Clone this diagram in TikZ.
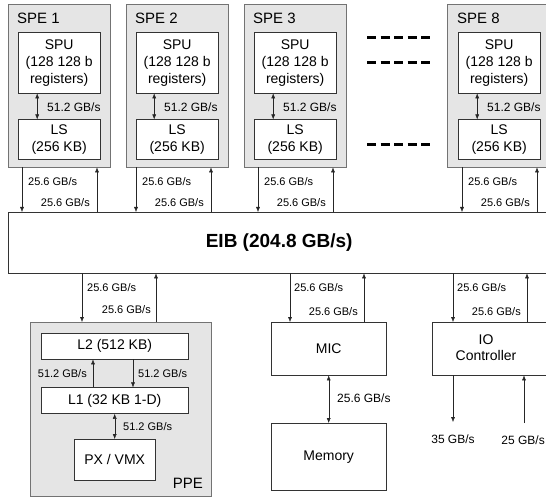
\documentclass[tikz,border=0pt]{standalone}
\usepackage{fontspec}
\setmainfont{Liberation Sans}
\usetikzlibrary{positioning, arrows.meta}

\begin{document}
\begin{tikzpicture}[
    x=1pt, y=-1pt,
    node distance=26pt,
    outer/.style={rectangle, draw=black!55, fill=gray!20, anchor=north west, inner sep=0pt},
    unit/.style={rectangle, draw=black!80, fill=white, align=center, inner sep=0pt, font=\fontsize{14}{17}\selectfont},
    title/.style={anchor=west, inner sep=0pt, font=\fontsize{15}{17}\selectfont},
    rate/.style={inner sep=0pt, font=\fontsize{11}{13}\selectfont},
    link/.style={-{Latex[length=5pt, width=4pt]}, draw=black!85},
    dlink/.style={{Latex[length=5pt, width=4pt]}-{Latex[length=5pt, width=4pt]}, draw=black!85},
    gap/.style={line width=3pt, dash pattern=on 9pt off 4.5pt}
]
    \clip (0,0) rectangle (546,497);

    % Bus
    \node[unit, anchor=north west, minimum width=542pt, minimum height=61pt,
          font=\fontsize{19}{22}\selectfont\bfseries] (eib) at (8,212) {EIB (204.8 GB/s)};

    % SPE 1
    \node[outer, minimum width=102pt, minimum height=163pt] (spe1) at (8,4) {};
    \node[title] (spe1t) at (17,18) {SPE 1};
    \node[unit, anchor=north west, minimum width=82pt, minimum height=61pt] (spu1) at (18,32) {SPU\\(128 128 b\\registers)};
    \node[unit, minimum width=82pt, minimum height=40pt, below=26pt of spu1] (ls1) {LS\\(256 KB)};
    \draw[dlink] ([xshift=-22pt]spu1.south) -- ([xshift=-22pt]ls1.north);
    \node[rate, anchor=west, font=\fontsize{12}{14}\selectfont] (r1) at (47,107) {51.2 GB/s};
    \draw[link] ([xshift=14pt]spe1.south west) -- ([xshift=14pt]spe1.south west |- eib.north);
    \draw[link] ([xshift=89pt]spe1.south west |- eib.north) -- ([xshift=89pt]spe1.south west);
    \node[rate, anchor=west] (d1) at (28,182) {25.6 GB/s};
    \node[rate, anchor=east] (u1) at (90,203) {25.6 GB/s};

    % SPE 2
    \node[outer, minimum width=102pt, minimum height=163pt] (spe2) at (126,4) {};
    \node[title] (spe2t) at (135,18) {SPE 2};
    \node[unit, anchor=north west, minimum width=82pt, minimum height=61pt] (spu2) at (136,32) {SPU\\(128 128 b\\registers)};
    \node[unit, minimum width=82pt, minimum height=40pt, below=26pt of spu2] (ls2) {LS\\(256 KB)};
    \draw[dlink] ([xshift=-23pt]spu2.south) -- ([xshift=-23pt]ls2.north);
    \node[rate, anchor=west, font=\fontsize{12}{14}\selectfont] (r2) at (164,107) {51.2 GB/s};
    \draw[link] ([xshift=10pt]spe2.south west) -- ([xshift=10pt]spe2.south west |- eib.north);
    \draw[link] ([xshift=85pt]spe2.south west |- eib.north) -- ([xshift=85pt]spe2.south west);
    \node[rate, anchor=west] (d2) at (142,182) {25.6 GB/s};
    \node[rate, anchor=east] (u2) at (204,203) {25.6 GB/s};

    % SPE 3
    \node[outer, minimum width=102pt, minimum height=163pt] (spe3) at (244,4) {};
    \node[title] (spe3t) at (253,18) {SPE 3};
    \node[unit, anchor=north west, minimum width=82pt, minimum height=61pt] (spu3) at (254,32) {SPU\\(128 128 b\\registers)};
    \node[unit, minimum width=82pt, minimum height=40pt, below=26pt of spu3] (ls3) {LS\\(256 KB)};
    \draw[dlink] ([xshift=-22pt]spu3.south) -- ([xshift=-22pt]ls3.north);
    \node[rate, anchor=west, font=\fontsize{12}{14}\selectfont] (r3) at (283,107) {51.2 GB/s};
    \draw[link] ([xshift=14pt]spe3.south west) -- ([xshift=14pt]spe3.south west |- eib.north);
    \draw[link] ([xshift=89pt]spe3.south west |- eib.north) -- ([xshift=89pt]spe3.south west);
    \node[rate, anchor=west] (d3) at (264,182) {25.6 GB/s};
    \node[rate, anchor=east] (u3) at (326,203) {25.6 GB/s};

    % more SPEs
    \draw[gap] (367,38) -- (430,38);
    \draw[gap] (367,63) -- (430,63);
    \draw[gap] (367,145) -- (430,145);

    % SPE 8
    \node[outer, minimum width=102pt, minimum height=163pt] (spe8) at (447,4) {};
    \node[title] (spe8t) at (457,18) {SPE 8};
    \node[unit, anchor=north west, minimum width=82pt, minimum height=61pt] (spu8) at (458,32) {SPU\\(128 128 b\\registers)};
    \node[unit, minimum width=82pt, minimum height=40pt, below=26pt of spu8] (ls8) {LS\\(256 KB)};
    \draw[dlink] ([xshift=-22pt]spu8.south) -- ([xshift=-22pt]ls8.north);
    \node[rate, anchor=west, font=\fontsize{12}{14}\selectfont] (r8) at (487,107) {51.2 GB/s};
    \draw[link] ([xshift=15pt]spe8.south west) -- ([xshift=15pt]spe8.south west |- eib.north);
    \draw[link] ([xshift=90pt]spe8.south west |- eib.north) -- ([xshift=90pt]spe8.south west);
    \node[rate, anchor=west] (d8) at (468,182) {25.6 GB/s};
    \node[rate, anchor=east] (u8) at (530,203) {25.6 GB/s};

    % PPE
    \node[outer, minimum width=181pt, minimum height=174pt] (ppe) at (30,322) {};
    \node[title, anchor=east] (ppet) at (203,483) {PPE};
    \node[unit, anchor=north west, minimum width=147pt, minimum height=26pt] (l2) at (41,333) {L2 (512 KB)};
    \node[unit, minimum width=147pt, minimum height=26pt, below=28pt of l2] (l1) {L1 (32 KB 1-D)};
    \node[unit, anchor=north west, minimum width=81pt, minimum height=41pt] (px) at (74,439) {PX / VMX};
    \coordinate (p1) at (ppe.north -| 82,0);
    \coordinate (p2) at (ppe.north -| 156,0);
    \draw[link] (p1 |- eib.south) -- (p1);
    \draw[link] (p2) -- (p2 |- eib.south);
    \node[rate, anchor=west] (dp) at (87,288) {25.6 GB/s};
    \node[rate, anchor=east] (up) at (151,310) {25.6 GB/s};
    \draw[link] (l1.north -| 93,0) coordinate (p3) -- (p3 |- l2.south);
    \draw[link] (l2.south -| 133,0) coordinate (p4) -- (p4 |- l1.north);
    \node[rate, anchor=east] (rl1) at (87,374) {51.2 GB/s};
    \node[rate, anchor=west] (rl2) at (138,374) {51.2 GB/s};
    \draw[dlink] (l1.south -| px.north) -- (px.north);
    \node[rate, anchor=west] (rpx) at (123,427) {51.2 GB/s};

    % MIC and Memory
    \node[unit, anchor=north west, minimum width=115pt, minimum height=53pt] (mic) at (271,322) {MIC};
    \node[unit, anchor=north west, minimum width=115pt, minimum height=67pt] (mem) at (271,423) {Memory};
    \coordinate (m1) at (mic.north -| 290,0);
    \coordinate (m2) at (mic.north -| 364,0);
    \draw[link] (m1 |- eib.south) -- (m1);
    \draw[link] (m2) -- (m2 |- eib.south);
    \node[rate, anchor=west] (dm) at (294,288) {25.6 GB/s};
    \node[rate, anchor=east] (um) at (358,312) {25.6 GB/s};
    \draw[dlink] (mic.south) -- (mem.north);
    \node[rate, anchor=west, font=\fontsize{12}{14}\selectfont] (rm) at (337,398) {25.6 GB/s};

    % IO Controller
    \node[unit, anchor=north west, minimum width=120pt, minimum height=53pt] (io) at (432,322) {};
    \node[align=center, inner sep=0pt, font=\fontsize{14}{16}\selectfont] (iot) at (486,348) {IO\\Controller};
    \coordinate (i1) at (io.north -| 453,0);
    \coordinate (i2) at (io.north -| 527,0);
    \draw[link] (i1 |- eib.south) -- (i1);
    \draw[link] (i2) -- (i2 |- eib.south);
    \node[rate, anchor=west] (di) at (457,288) {25.6 GB/s};
    \node[rate, anchor=east] (ui) at (521,312) {25.6 GB/s};
    \coordinate (out35) at (453,422);
    \coordinate (in25) at (524,423);
    \draw[link] (io.south -| out35) -- (out35);
    \draw[link] (in25) -- (io.south -| in25);
    \node[rate, anchor=north, font=\fontsize{12}{14}\selectfont] (o35) at (453,435) {35 GB/s};
    \node[rate, anchor=east, font=\fontsize{12}{14}\selectfont] (i25) at (545,440) {25 GB/s};

\end{tikzpicture}
\end{document}
